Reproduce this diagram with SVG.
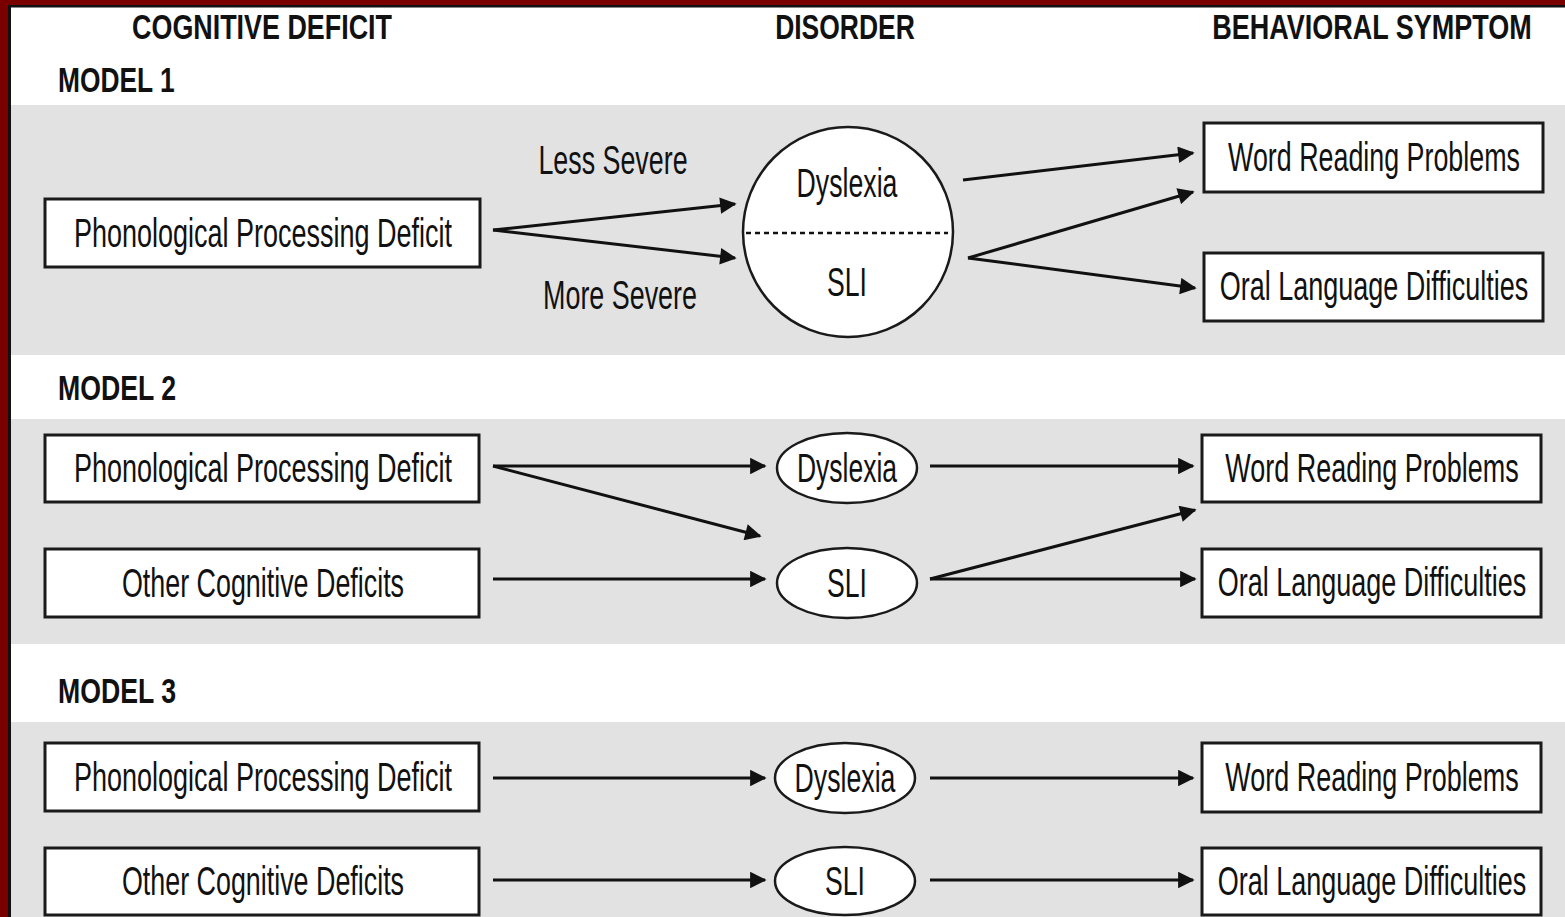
<svg xmlns="http://www.w3.org/2000/svg" width="1565" height="917" viewBox="0 0 1565 917">
<style>
.band{fill:#e2e2e2}
.box{fill:#fff;stroke:#1a1a1a;stroke-width:3}
.ell{fill:#fff;stroke:#1a1a1a;stroke-width:2.5}
.t{font-family:"Liberation Sans",Arial,sans-serif;font-size:40px;fill:#111;text-anchor:middle}
.h{font-family:"Liberation Sans",Arial,sans-serif;font-size:36px;font-weight:bold;fill:#111;text-anchor:middle}
.hs{font-family:"Liberation Sans",Arial,sans-serif;font-size:36px;font-weight:bold;fill:#111;text-anchor:start}
.c{stroke:#111;stroke-width:3;fill:none;marker-end:url(#ah)}
</style>
<defs>
<marker id="ah" viewBox="0 0 10 10" refX="9" refY="5" markerWidth="6" markerHeight="5.5" orient="auto" markerUnits="strokeWidth">
<path d="M0,0 L10,5 L0,10 z" fill="#111"/>
</marker>
</defs>
<rect x="0" y="0" width="1565" height="917" fill="#ffffff"/>
<g id="bands">
<rect class="band" x="11" y="105" width="1554" height="250"/>
<rect class="band" x="11" y="419" width="1554" height="225"/>
<rect class="band" x="11" y="722" width="1554" height="195"/>
</g>
<g id="frame">
<rect x="0" y="0" width="1565" height="5" fill="#7a0000"/>
<rect x="0" y="0" width="8" height="917" fill="#7a0000"/>
<rect x="8" y="5" width="1557" height="2.5" fill="#111"/>
<rect x="8" y="5" width="3" height="912" fill="#111"/>
</g>
<g id="headers">
<g transform="translate(262,39) scale(0.72,1)"><text class="h" x="0" y="0" textLength="361" lengthAdjust="spacingAndGlyphs">COGNITIVE DEFICIT</text></g>
<g transform="translate(845,39) scale(0.72,1)"><text class="h" x="0" y="0" textLength="194" lengthAdjust="spacingAndGlyphs">DISORDER</text></g>
<g transform="translate(1372,39) scale(0.72,1)"><text class="h" x="0" y="0" textLength="444" lengthAdjust="spacingAndGlyphs">BEHAVIORAL SYMPTOM</text></g>
<g transform="translate(58,92) scale(0.72,1)"><text class="hs" x="0" y="0" textLength="162" lengthAdjust="spacingAndGlyphs">MODEL 1</text></g>
<g transform="translate(58,400) scale(0.72,1)"><text class="hs" x="0" y="0" textLength="164" lengthAdjust="spacingAndGlyphs">MODEL 2</text></g>
<g transform="translate(58,703) scale(0.72,1)"><text class="hs" x="0" y="0" textLength="164" lengthAdjust="spacingAndGlyphs">MODEL 3</text></g>
</g>
<g id="connectors">
<path class="c" d="M493,230 L735,204"/>
<path class="c" d="M493,230 L735,258"/>
<path class="c" d="M963,180 L1193,153"/>
<path class="c" d="M968,258 L1193,192"/>
<path class="c" d="M968,258 L1195,288"/>
<path class="c" d="M493,466 L765,466"/>
<path class="c" d="M493,466 L760,536"/>
<path class="c" d="M493,579 L765,579"/>
<path class="c" d="M930,466 L1193,466"/>
<path class="c" d="M930,579 L1195,510"/>
<path class="c" d="M930,579 L1195,579"/>
<path class="c" d="M493,778 L765,778"/>
<path class="c" d="M493,880 L765,880"/>
<path class="c" d="M930,778 L1193,778"/>
<path class="c" d="M930,880 L1193,880"/>
</g>
<g id="labels">
<g transform="translate(613,174) scale(0.7,1)"><text class="t" x="0" y="0" textLength="213" lengthAdjust="spacingAndGlyphs">Less Severe</text></g>
<g transform="translate(620,309) scale(0.7,1)"><text class="t" x="0" y="0" textLength="220" lengthAdjust="spacingAndGlyphs">More Severe</text></g>
</g>
<g id="m1-ppd"><rect class="box" x="45" y="199" width="435" height="68"/><g transform="translate(263,246.5) scale(0.7,1)"><text class="t" x="0" y="0" textLength="540" lengthAdjust="spacingAndGlyphs">Phonological Processing Deficit</text></g></g>
<g id="m1-disorder">
<circle class="ell" cx="848" cy="232" r="105"/>
<line x1="746" y1="233" x2="948" y2="233" stroke="#111" stroke-width="2.5" stroke-dasharray="5,4"/>
<g transform="translate(847,197) scale(0.7,1)"><text class="t" x="0" y="0" textLength="144" lengthAdjust="spacingAndGlyphs">Dyslexia</text></g>
<g transform="translate(847,296) scale(0.7,1)"><text class="t" x="0" y="0" textLength="57" lengthAdjust="spacingAndGlyphs">SLI</text></g>
</g>
<g id="m1-wrp"><rect class="box" x="1204" y="123" width="339" height="69"/><g transform="translate(1374,171) scale(0.7,1)"><text class="t" x="0" y="0" textLength="417" lengthAdjust="spacingAndGlyphs">Word Reading Problems</text></g></g>
<g id="m1-old"><rect class="box" x="1204" y="253" width="339" height="68"/><g transform="translate(1374,300) scale(0.7,1)"><text class="t" x="0" y="0" textLength="441" lengthAdjust="spacingAndGlyphs">Oral Language Difficulties</text></g></g>
<g id="m2-ppd"><rect class="box" x="45" y="435" width="434" height="67"/><g transform="translate(263,482) scale(0.7,1)"><text class="t" x="0" y="0" textLength="540" lengthAdjust="spacingAndGlyphs">Phonological Processing Deficit</text></g></g>
<g id="m2-ocd"><rect class="box" x="45" y="549" width="434" height="68"/><g transform="translate(263,596.5) scale(0.7,1)"><text class="t" x="0" y="0" textLength="403" lengthAdjust="spacingAndGlyphs">Other Cognitive Deficits</text></g></g>
<g id="m2-dys"><ellipse class="ell" cx="847" cy="468" rx="70" ry="35"/><g transform="translate(847,482) scale(0.7,1)"><text class="t" x="0" y="0" textLength="143" lengthAdjust="spacingAndGlyphs">Dyslexia</text></g></g>
<g id="m2-sli"><ellipse class="ell" cx="847" cy="583" rx="70" ry="35"/><g transform="translate(847,597) scale(0.7,1)"><text class="t" x="0" y="0" textLength="57" lengthAdjust="spacingAndGlyphs">SLI</text></g></g>
<g id="m2-wrp"><rect class="box" x="1202" y="435" width="339" height="67"/><g transform="translate(1372,482) scale(0.7,1)"><text class="t" x="0" y="0" textLength="419" lengthAdjust="spacingAndGlyphs">Word Reading Problems</text></g></g>
<g id="m2-old"><rect class="box" x="1202" y="549" width="339" height="68"/><g transform="translate(1372,596) scale(0.7,1)"><text class="t" x="0" y="0" textLength="441" lengthAdjust="spacingAndGlyphs">Oral Language Difficulties</text></g></g>
<g id="m3-ppd"><rect class="box" x="45" y="743" width="434" height="68"/><g transform="translate(263,790.5) scale(0.7,1)"><text class="t" x="0" y="0" textLength="540" lengthAdjust="spacingAndGlyphs">Phonological Processing Deficit</text></g></g>
<g id="m3-ocd"><rect class="box" x="45" y="848" width="434" height="67"/><g transform="translate(263,895) scale(0.7,1)"><text class="t" x="0" y="0" textLength="403" lengthAdjust="spacingAndGlyphs">Other Cognitive Deficits</text></g></g>
<g id="m3-dys"><ellipse class="ell" cx="845" cy="778" rx="70" ry="35"/><g transform="translate(845,792) scale(0.7,1)"><text class="t" x="0" y="0" textLength="144" lengthAdjust="spacingAndGlyphs">Dyslexia</text></g></g>
<g id="m3-sli"><ellipse class="ell" cx="845" cy="881" rx="70" ry="34"/><g transform="translate(845,895) scale(0.7,1)"><text class="t" x="0" y="0" textLength="57" lengthAdjust="spacingAndGlyphs">SLI</text></g></g>
<g id="m3-wrp"><rect class="box" x="1202" y="743" width="339" height="69"/><g transform="translate(1372,791) scale(0.7,1)"><text class="t" x="0" y="0" textLength="419" lengthAdjust="spacingAndGlyphs">Word Reading Problems</text></g></g>
<g id="m3-old"><rect class="box" x="1202" y="848" width="339" height="67"/><g transform="translate(1372,895) scale(0.7,1)"><text class="t" x="0" y="0" textLength="441" lengthAdjust="spacingAndGlyphs">Oral Language Difficulties</text></g></g>
</svg>
